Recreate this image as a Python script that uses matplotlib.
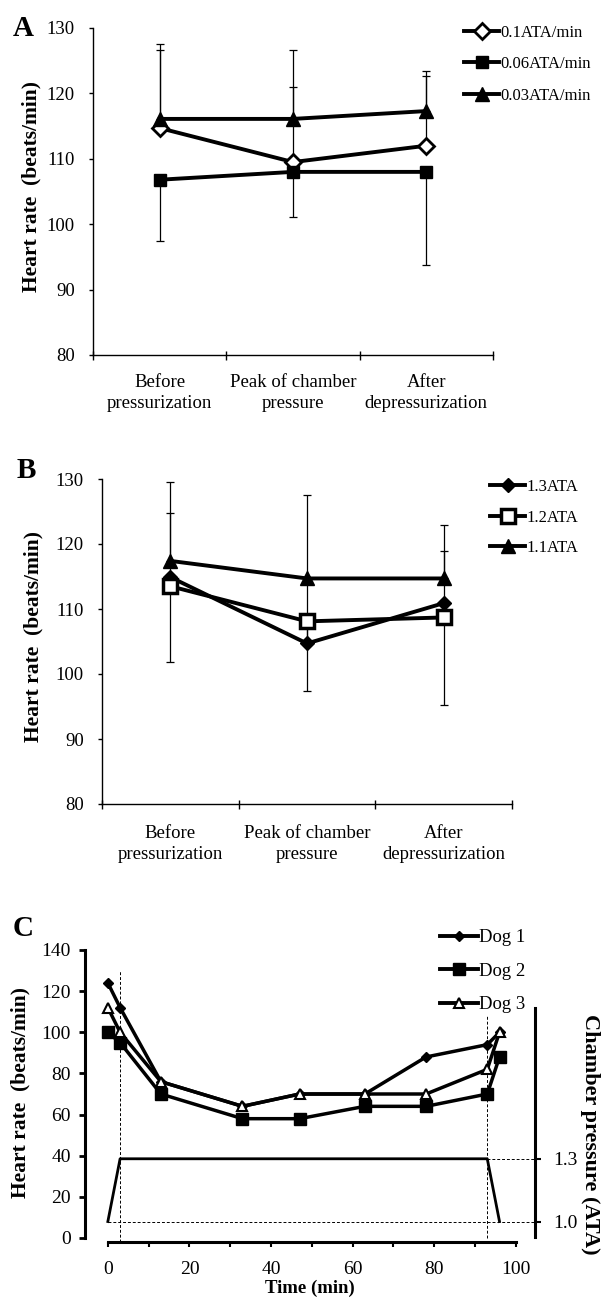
import matplotlib
matplotlib.use("Agg")
import matplotlib.pyplot as plt
from matplotlib.lines import Line2D
from matplotlib.ticker import FixedLocator, NullFormatter
import numpy as np

plt.rcParams['font.family'] = ['Liberation Serif', 'DejaVu Serif']

# ---------------- data ----------------
categories = ["Before\npressurization", "Peak of chamber\npressure", "After\ndepressurization"]

# Panel A (decompression-rate groups)
a_labels = ["0.1ATA/min", "0.06ATA/min", "0.03ATA/min"]
a_vals_01 = [114.7, 109.5, 112.0]
a_err_01_up = [12.0, 11.5, 10.7]
a_vals_006 = [106.8, 108.0, 108.0]
a_err_006_dn = [9.3, 6.9, 14.3]
a_vals_003 = [116.1, 116.1, 117.3]
a_err_003_up = [11.5, 10.5, 6.2]

# Panel B (pressure groups)
b_labels = ["1.3ATA", "1.2ATA", "1.1ATA"]
b_vals_13 = [114.9, 104.7, 110.9]
b_err_13_up = [9.9, 10.0, 8.0]
b_vals_12 = [113.5, 108.1, 108.7]
b_err_12_dn = [11.7, 10.7, 13.4]
b_vals_11 = [117.4, 114.7, 114.7]
b_err_11_up = [12.1, 12.8, 8.3]

y_ticks_ab = [80, 90, 100, 110, 120, 130]

# Panel C (individual dogs over time)
c_labels = ["Dog 1", "Dog 2", "Dog 3"]
c_time = [0, 3, 13, 33, 47, 63, 78, 93, 96]
c_dog1 = [124, 112, 76, 64, 70, 70, 88, 94, 100]
c_dog2 = [100, 95, 70, 58, 58, 64, 64, 70, 88]
c_dog3 = [112, 100, 76, 64, 70, 70, 70, 82, 100]
press_time = [0, 3, 93, 96]
press_ata = [1.0, 1.3, 1.3, 1.0]
press_ticks = [1.0, 1.3]
time_ticks = [0, 20, 40, 60, 80, 100]
hr_ticks = [0, 20, 40, 60, 80, 100, 120, 140]

# ---------------- figure ----------------
W, H = 603, 1300
fig = plt.figure(figsize=(W / 100, H / 100), dpi=100)


def add_ax(l, t, r, b):
    return fig.add_axes([l / W, 1 - b / H, (r - l) / W, (b - t) / H])


def px(p):
    return p * 72 / 100.0


FS_TICK = 13.5
FS_LEG = 12
FS_LAB = 15.5


def cat_panel(ax, series, label_pad):
    ax.set_xlim(0, 3)
    ax.set_ylim(80, 130)
    x = np.arange(3) + 0.5
    for vals, lo, up, mk, ms, fc, mew in series:
        ax.errorbar(x, vals, yerr=[lo, up], fmt='none', ecolor='black',
                    elinewidth=0.9, capsize=px(4), capthick=0.9, zorder=2)
    for vals, lo, up, mk, ms, fc, mew in series:
        ax.plot(x, vals, color='black', lw=2.8, marker=mk, markersize=ms,
                markerfacecolor=fc, markeredgecolor='black', markeredgewidth=mew,
                zorder=3, solid_joinstyle='miter')
    for s in ['top', 'right']:
        ax.spines[s].set_visible(False)
    for s in ['left', 'bottom']:
        ax.spines[s].set_linewidth(1.0)
    ax.set_yticks(y_ticks_ab)
    ax.tick_params(axis='y', direction='out', length=px(4), width=1.0,
                   pad=px(14), labelsize=FS_TICK)
    ax.xaxis.set_major_locator(FixedLocator([0, 1, 2, 3]))
    ax.xaxis.set_major_formatter(NullFormatter())
    ax.xaxis.set_minor_locator(FixedLocator([0.5, 1.5, 2.5]))
    ax.set_xticklabels(categories, minor=True)
    ax.tick_params(axis='x', which='major', direction='inout', length=px(9), width=1.0)
    ax.tick_params(axis='x', which='minor', length=0, pad=px(label_pad), labelsize=FS_TICK)
    for t in ax.xaxis.get_minorticklabels():
        t.set_linespacing(1.3)


def legend_handles(specs):
    return [Line2D([0], [0], color='black', lw=2.8, marker=mk, markersize=ms,
                   markerfacecolor=fc, markeredgecolor='black', markeredgewidth=mew)
            for mk, ms, fc, mew in specs]


# ---------- Panel A ----------
axA = add_ax(93, 28, 493, 355)
zeros = [0, 0, 0]
specA = [('D', 8.5, 'white', 2.0), ('s', 9, 'black', 1.0), ('^', 9.5, 'black', 1.0)]
cat_panel(axA, [
    (a_vals_01, zeros, a_err_01_up) + specA[0],
    (a_vals_006, a_err_006_dn, zeros) + specA[1],
    (a_vals_003, zeros, a_err_003_up) + specA[2],
], 19)
fig.legend(legend_handles(specA), a_labels, loc='upper left',
           bbox_to_anchor=(464 / W, 1 - 25 / H), frameon=False, fontsize=FS_LEG,
           handlelength=2.1, handletextpad=0.1, labelspacing=0.92,
           borderpad=0, borderaxespad=0)
fig.text(23 / W, 1 - 28 / H, "A", fontsize=21, fontweight='bold', ha='center', va='center')
fig.text(31 / W, 1 - 186 / H, "Heart rate  (beats/min)", fontsize=FS_LAB, fontweight='bold',
         rotation=90, ha='center', va='center')

# ---------- Panel B ----------
axB = add_ax(102, 479, 512, 804)
specB = [('D', 7.5, 'black', 1.0), ('s', 10, 'white', 2.5), ('^', 9.5, 'black', 1.0)]
cat_panel(axB, [
    (b_vals_13, zeros, b_err_13_up) + specB[0],
    (b_vals_12, b_err_12_dn, zeros) + specB[1],
    (b_vals_11, zeros, b_err_11_up) + specB[2],
], 21)
fig.legend(legend_handles(specB), b_labels, loc='upper left',
           bbox_to_anchor=(490 / W, 1 - 479 / H), frameon=False, fontsize=FS_LEG,
           handlelength=2.1, handletextpad=0.1, labelspacing=0.88,
           borderpad=0, borderaxespad=0)
fig.text(26 / W, 1 - 471 / H, "B", fontsize=21, fontweight='bold', ha='center', va='center')
fig.text(33 / W, 1 - 636 / H, "Heart rate  (beats/min)", fontsize=FS_LAB, fontweight='bold',
         rotation=90, ha='center', va='center')

# ---------- Panel C ----------
axC = add_ax(85, 950, 535, 1238)
axC.set_xlim(-5.6, 104.7)
axC.set_ylim(0, 140)
specC = [('D', 5.5, 'black', 1.0), ('s', 8, 'black', 1.0), ('^', 7, 'white', 1.5)]
for vals, (mk, ms, fc, mew) in zip([c_dog1, c_dog2, c_dog3], specC):
    axC.plot(c_time, vals, color='black', lw=2.5, marker=mk, markersize=ms,
             markerfacecolor=fc, markeredgecolor='black', markeredgewidth=mew, zorder=3)
axC.plot([press_time[1], press_time[1]], [-2, 130], color='black', lw=0.7,
         ls=(0, (3, 2)), clip_on=False, zorder=1)
axC.plot([press_time[2], press_time[2]], [0, 108], color='black', lw=0.7,
         ls=(0, (3, 2)), clip_on=False, zorder=1)
for s in ['top', 'right']:
    axC.spines[s].set_visible(False)
axC.spines['bottom'].set_position(('outward', px(4)))
axC.spines['bottom'].set_bounds(0, 100)
axC.spines['left'].set_bounds(0, 140)
for s in ['left', 'bottom']:
    axC.spines[s].set_linewidth(2.2)
axC.set_yticks(hr_ticks)
axC.set_xticks(time_ticks)
axC.set_xticks([10, 30, 50, 70, 90], minor=True)
axC.tick_params(axis='y', direction='out', length=px(6), width=2.0, pad=px(8), labelsize=14)
axC.tick_params(axis='x', which='both', direction='out', length=px(5), width=1.5,
                pad=px(14), labelsize=14)
axC.set_xlabel("Time (min)", fontsize=13.5, fontweight='bold', labelpad=1)

ax2 = axC.twinx()
ax2.set_ylim(0.9213, 2.298)
ax2.plot(press_time, press_ata, color='black', lw=2.0, zorder=2)
ax2.plot([press_time[0], 104.7], [press_ticks[0]] * 2, color='black', lw=0.7,
         ls=(0, (3, 2)), clip_on=False)
ax2.plot([press_time[2], 104.7], [press_ticks[1]] * 2, color='black', lw=0.7,
         ls=(0, (3, 2)), clip_on=False)
for s in ['top', 'left', 'bottom']:
    ax2.spines[s].set_visible(False)
ax2.spines['right'].set_linewidth(2.2)
ax2.spines['right'].set_bounds(0.926, 2.02)
ax2.set_yticks(press_ticks)
ax2.set_yticklabels([f"{v:.1f}" for v in press_ticks])
ax2.tick_params(axis='y', direction='out', length=px(6), width=1.5, pad=px(12), labelsize=14)

fig.legend(legend_handles(specC), c_labels, loc='upper left',
           bbox_to_anchor=(440 / W, 1 - 929 / H), frameon=False, fontsize=13.5,
           handlelength=2.0, handletextpad=0.1, labelspacing=0.88,
           borderpad=0, borderaxespad=0)
fig.text(23 / W, 1 - 929 / H, "C", fontsize=21, fontweight='bold', ha='center', va='center')
fig.text(20 / W, 1 - 1092 / H, "Heart rate  (beats/min)", fontsize=FS_LAB, fontweight='bold',
         rotation=90, ha='center', va='center')
fig.text(590 / W, 1 - 1134 / H, "Chamber pressure (ATA)", fontsize=FS_LAB + 0.5, fontweight='bold',
         rotation=270, ha='center', va='center')

fig.savefig("out.png", dpi=100)
